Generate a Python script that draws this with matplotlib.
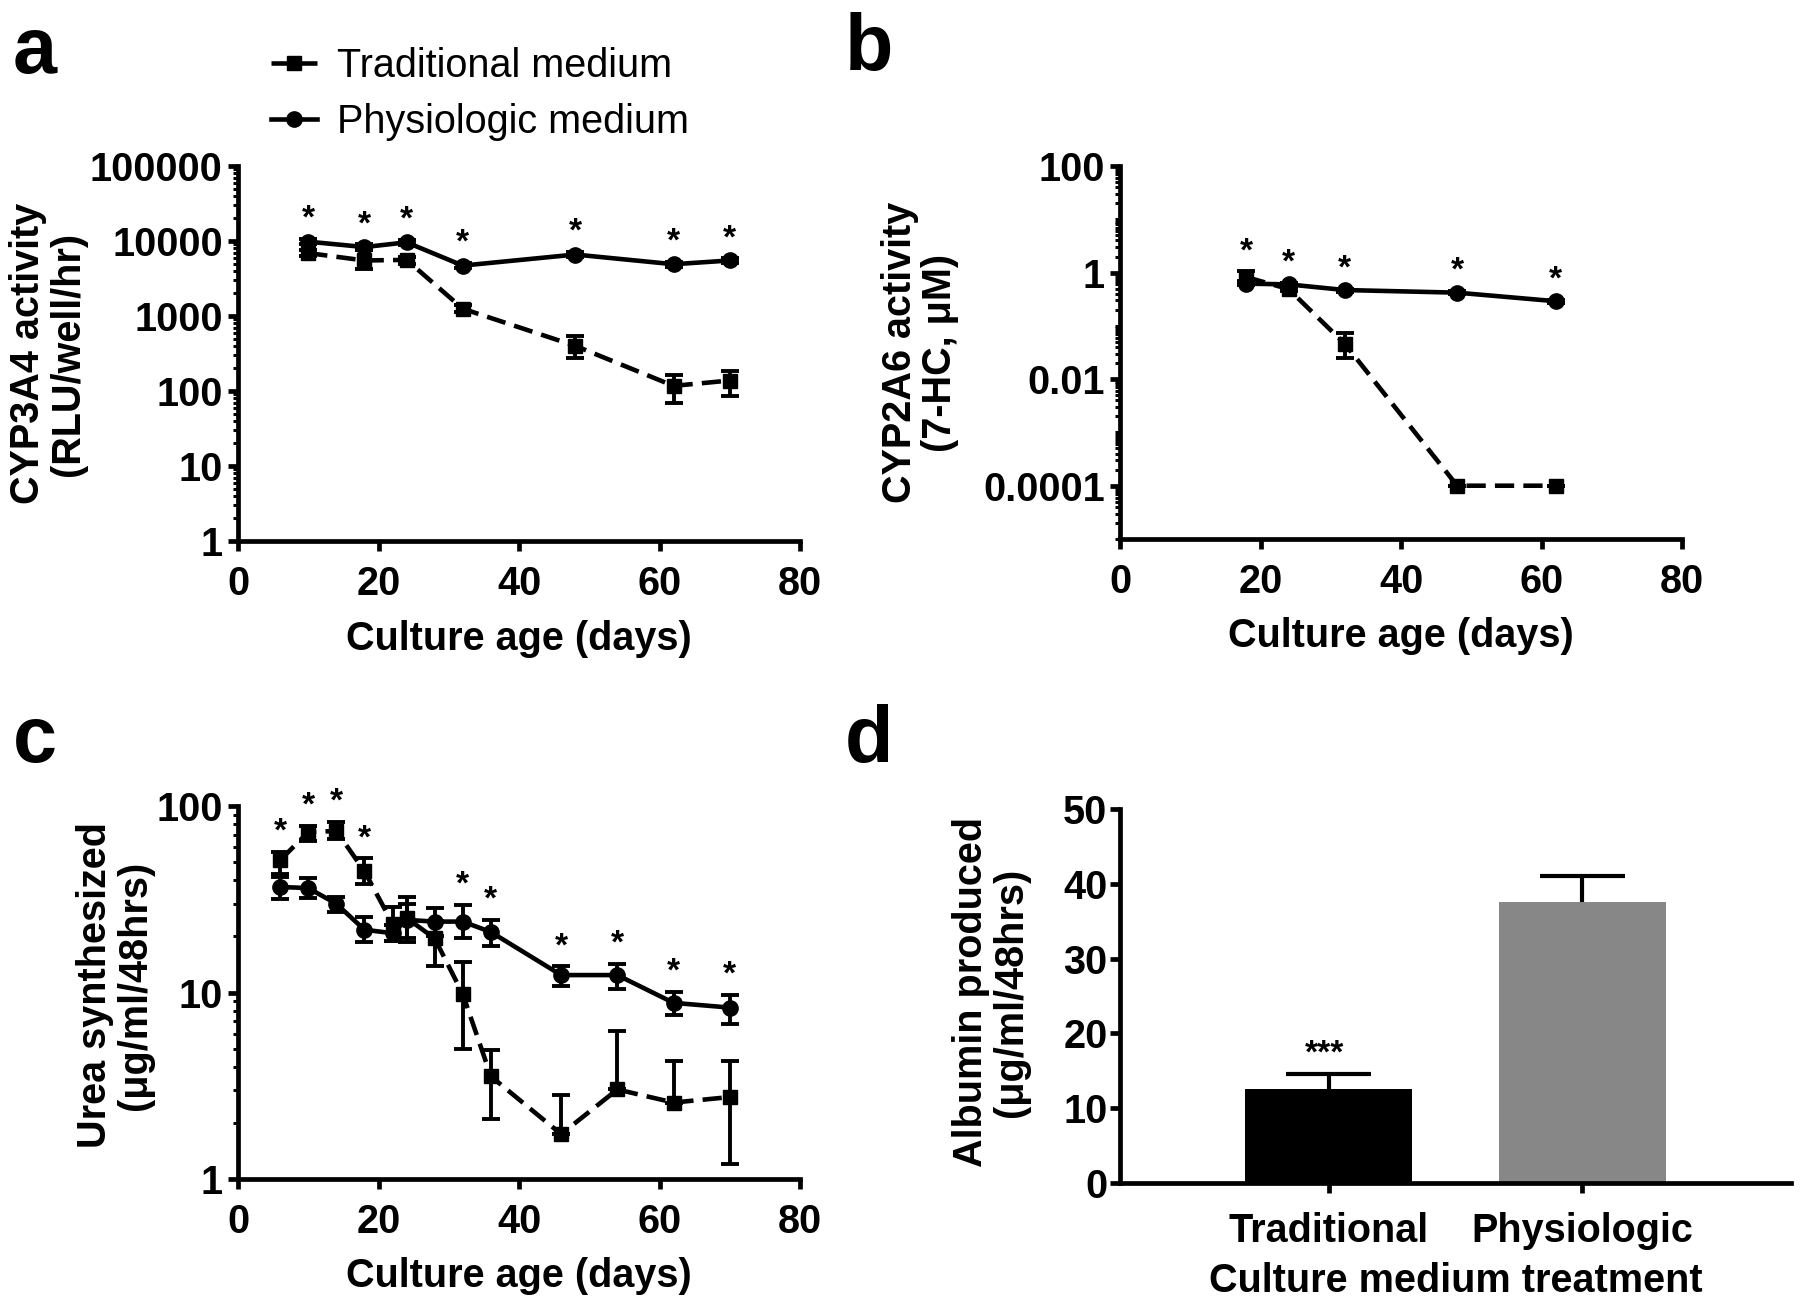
import numpy as np
import matplotlib
matplotlib.use("Agg")
import matplotlib.pyplot as plt
from matplotlib.ticker import FixedLocator, LogLocator, NullFormatter

plt.rcParams['font.family'] = ['Liberation Sans', 'DejaVu Sans']
plt.rcParams['font.weight'] = 'bold'
plt.rcParams['axes.linewidth'] = 3.4

# ---- data ----
# a: CYP3A4 activity
a_days = [10, 18, 24, 32, 48, 62, 70]
a_trad = [6900, 5500, 5600, 1250, 400, 117, 138]
a_trad_lo = [6300, 4200, 5000, 1120, 275, 69, 85]
a_trad_hi = [7600, 7600, 6200, 1400, 540, 165, 187]
a_phys = [9800, 8300, 9600, 4700, 6600, 4900, 5500]
a_phys_lo = [9000, 7600, 8900, 4300, 6100, 4500, 5100]
a_phys_hi = [10600, 9000, 10300, 5100, 7100, 5300, 5900]
a_star_days = [10, 18, 24, 32, 48, 62, 70]
a_yticks = [1, 10, 100, 1000, 10000, 100000]
a_yticklabels = ['1', '10', '100', '1000', '10000', '100000']

# b: CYP2A6 activity
b_days = [18, 24, 32, 48, 62]
b_trad = [0.82, 0.49, 0.046, 0.0001, 0.0001]
b_trad_lo = [0.70, 0.45, 0.025, 0.0001, 0.0001]
b_trad_hi = [1.05, 0.54, 0.072, 0.0001, 0.0001]
b_phys = [0.62, 0.60, 0.47, 0.42, 0.29]
b_phys_lo = [0.58, 0.56, 0.44, 0.39, 0.27]
b_phys_hi = [0.66, 0.64, 0.50, 0.45, 0.31]
b_star_days = [18, 24, 32, 48, 62]
b_yticks = [0.0001, 0.01, 1, 100]
b_yticklabels = ['0.0001', '0.01', '1', '100']

# c: urea synthesized
c_days = [6, 10, 14, 18, 22, 24, 28, 32, 36, 46, 54, 62, 70]
c_trad = [51.3, 72.4, 73.5, 44.7, 23.4, 25.1, 19.5, 9.8, 3.55, 1.74, 3.02, 2.57, 2.75]
c_trad_lo = [43.0, 64.6, 66.7, 38.0, 19.0, 18.6, 13.8, 5.0, 2.1, 1.74, 3.02, 2.57, 1.21]
c_trad_hi = [57.0, 78.0, 82.0, 52.5, 28.8, 32.4, 24.2, 14.6, 4.9, 2.82, 6.25, 4.27, 4.27]
c_phys = [36.8, 36.3, 29.9, 21.7, 20.8, 24.5, 24.0, 24.0, 21.1, 12.4, 12.4, 8.8, 8.3]
c_phys_lo = [31.9, 32.0, 27.0, 18.6, 19.0, 19.5, 20.0, 19.5, 17.8, 10.9, 10.4, 7.6, 6.8]
c_phys_hi = [41.7, 41.0, 32.5, 25.4, 23.0, 30.0, 28.5, 29.5, 24.5, 13.8, 14.3, 10.1, 9.7]
c_star_days = [6, 10, 14, 18, 32, 36, 46, 54, 62, 70]
c_yticks = [1, 10, 100]
c_yticklabels = ['1', '10', '100']

# d: albumin
d_groups = ['Traditional', 'Physiologic']
d_means = [12.6, 37.6]
d_sem = [1.95, 3.4]
d_colors = ['#000000', '#878787']
d_stars = ['***', '']

xticks = [0, 20, 40, 60, 80]

FS = 28.5
fig = plt.figure(figsize=(18, 13.03), dpi=100)
W, H = 1800.0, 1303.0


def axes_px(left, top, right, bottom):
    return fig.add_axes([left / W, 1 - bottom / H, (right - left) / W, (bottom - top) / H])


def style(ax):
    for s in ['top', 'right']:
        ax.spines[s].set_visible(False)
    ax.tick_params(which='major', direction='out', length=7, width=3.4, labelsize=FS)
    ax.tick_params(which='minor', direction='out', length=3.8, width=2.2)
    ax.tick_params(axis='x', pad=10)
    ax.tick_params(axis='y', pad=4)


def line_panel(ax, days, trad, tlo, thi, phys, plo, phi, star_days, yticks, ylabels, ylim, dense_minor=False):
    trad, tlo, thi = np.array(trad), np.array(tlo), np.array(thi)
    phys, plo, phi = np.array(phys), np.array(plo), np.array(phi)
    ax.set_yscale('log')
    ax.errorbar(days, trad, yerr=[trad - tlo, thi - trad], fmt='none', ecolor='black',
                elinewidth=2.8, capsize=6.5, capthick=2.8, zorder=2)
    ax.errorbar(days, phys, yerr=[phys - plo, phi - phys], fmt='none', ecolor='black',
                elinewidth=2.8, capsize=6.5, capthick=2.8, zorder=2)
    lt, = ax.plot(days, trad, color='black', lw=3.3, ls=(0, (4.2, 2.0)), marker='s',
                  markersize=10, zorder=3, label='Traditional medium')
    lp, = ax.plot(days, phys, color='black', lw=3.3, ls='-', marker='o',
                  markersize=11, zorder=4, label='Physiologic medium')
    for d in star_days:
        i = list(days).index(d)
        top = max(thi[i], phi[i], trad[i], phys[i])
        ax.annotate('*', xy=(d, top), xytext=(0, 8), textcoords='offset points',
                    ha='center', va='baseline', fontsize=24, fontweight='bold')
    ax.set_xlim(0, 80)
    ax.set_ylim(*ylim)
    ax.xaxis.set_major_locator(FixedLocator(xticks))
    ax.set_xticklabels([str(t) for t in xticks])
    ax.yaxis.set_major_locator(FixedLocator(yticks))
    ax.set_yticklabels(ylabels)
    subs = np.arange(1, 10) if dense_minor else np.arange(2, 10)
    ax.yaxis.set_minor_locator(LogLocator(base=10, subs=subs, numticks=30))
    ax.yaxis.set_minor_formatter(NullFormatter())
    style(ax)
    for lab in ax.get_xticklabels() + ax.get_yticklabels():
        lab.set_fontweight('bold')
    ax.set_xlabel('Culture age (days)', fontsize=FS, fontweight='bold')
    ax.xaxis.set_label_coords(0.5, -0.21)
    return lt, lp


ax_a = axes_px(238, 166, 800, 541)
lt, lp = line_panel(ax_a, a_days, a_trad, a_trad_lo, a_trad_hi, a_phys, a_phys_lo, a_phys_hi,
                    a_star_days, a_yticks, a_yticklabels, (1, 100000))
ax_a.text(-0.338, 0.5, 'CYP3A4 activity\n(RLU/well/hr)', transform=ax_a.transAxes, rotation=90,
          ha='center', va='center', multialignment='center', fontsize=FS, fontweight='bold', linespacing=1.05)

ax_b = axes_px(1120, 166, 1682, 539)
line_panel(ax_b, b_days, b_trad, b_trad_lo, b_trad_hi, b_phys, b_phys_lo, b_phys_hi,
           b_star_days, b_yticks, b_yticklabels, (0.00001, 100), dense_minor=True)
ax_b.text(-0.356, 0.5, 'CYP2A6 activity\n(7-HC, \u03bcM)', transform=ax_b.transAxes, rotation=90,
          ha='center', va='center', multialignment='center', fontsize=FS, fontweight='bold', linespacing=1.05)

ax_c = axes_px(238, 806, 800, 1179)
line_panel(ax_c, c_days, c_trad, c_trad_lo, c_trad_hi, c_phys, c_phys_lo, c_phys_hi,
           c_star_days, c_yticks, c_yticklabels, (1, 100))
ax_c.text(-0.219, 0.52, 'Urea synthesized\n(\u03bcg/ml/48hrs)', transform=ax_c.transAxes, rotation=90,
          ha='center', va='center', multialignment='center', fontsize=FS, fontweight='bold', linespacing=1.05)

# d: bar chart, upper error bars only
ax_d = axes_px(1120, 809, 1791, 1183)
pos = np.arange(len(d_groups))
means = np.array(d_means)
tops = means + np.array(d_sem)
ax_d.bar(pos, means, width=0.66, color=d_colors, zorder=2)
ax_d.vlines(pos, means, tops, color='black', lw=3, zorder=3)
ax_d.hlines(tops, pos - 0.168, pos + 0.168, color='black', lw=3, zorder=3)
for p, t, st in zip(pos, tops, d_stars):
    if st:
        ax_d.annotate(st, xy=(p, t), xytext=(-3, 8), textcoords='offset points',
                      ha='center', va='baseline', fontsize=24, fontweight='bold')
ax_d.set_xlim(-0.826, 1.826)
ax_d.set_ylim(0, 50)
ax_d.set_yticks([0, 10, 20, 30, 40, 50])
ax_d.set_xticks(pos)
ax_d.set_xticklabels(d_groups)
style(ax_d)
ax_d.tick_params(axis='x', pad=14)
ax_d.tick_params(axis='y', pad=2)
for lab in ax_d.get_xticklabels() + ax_d.get_yticklabels():
    lab.set_fontweight('bold')
ax_d.set_xlabel('Culture medium treatment', fontsize=FS, fontweight='bold')
ax_d.xaxis.set_label_coords(0.5, -0.21)
ax_d.text(-0.192, 0.51, 'Albumin produced\n(\u03bcg/ml/48hrs)', transform=ax_d.transAxes, rotation=90,
          ha='center', va='center', multialignment='center', fontsize=FS, fontweight='bold', linespacing=1.05)

# legend above panel a
ax_a.legend(handles=[lt, lp], loc='upper left', bbox_to_anchor=(271 / W, 1 - 47 / H),
            bbox_transform=fig.transFigure, frameon=False, borderpad=0, borderaxespad=0,
            handlelength=1.16, handletextpad=0.5, labelspacing=0.45,
            prop={'size': FS, 'weight': 'normal'})

# panel letters
for letter, x, y in [('a', 13, 73), ('b', 845, 70), ('c', 13, 762), ('d', 845, 762)]:
    fig.text(x / W, 1 - y / H, letter, fontsize=57, fontweight='bold', ha='left', va='baseline')

fig.savefig('out.png', dpi=100)
